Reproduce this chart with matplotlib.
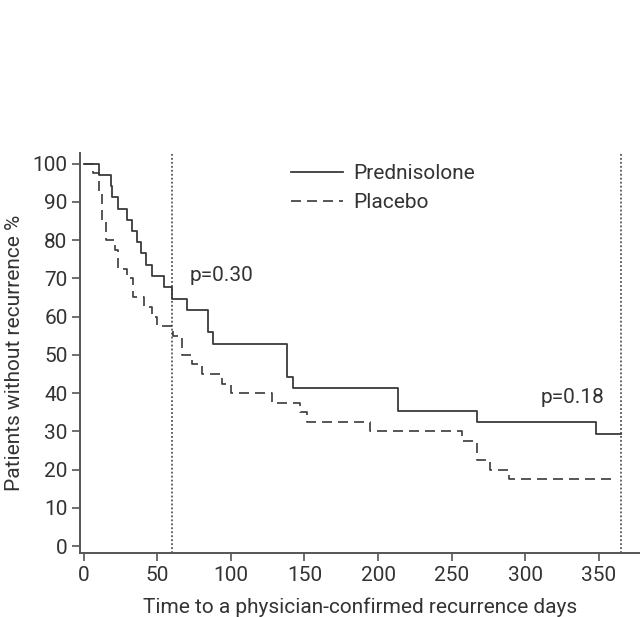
import matplotlib
matplotlib.use("Agg")
import matplotlib.pyplot as plt

plt.rcParams['font.family'] = ['Roboto', 'DejaVu Sans']

# Prednisolone (solid)
pred_days = [0, 10.2, 18.1, 19.3, 23.3, 29, 32.9, 35.8, 38.5, 42, 46, 54.6, 59.6,
             69.8, 84.1, 87.5, 138.2, 141.9, 213.3, 267.2, 348.2, 365]
pred_pct = [100, 97.1, 94.1, 91.2, 88.2, 85.3, 82.4, 79.4, 76.5, 73.5, 70.6, 67.6, 64.7,
            61.8, 55.9, 52.9, 44.1, 41.2, 35.3, 32.4, 29.4, 29.4]

# Placebo (dashed)
plac_days = [0, 6.3, 10.2, 12.3, 15.2, 21, 23.3, 29, 33.5, 41, 46, 50, 60.3, 66.8,
             73.2, 80, 93.6, 100, 127.6, 146.9, 151.4, 194.5, 256.8, 267, 276, 289.2, 360]
plac_pct = [100, 97.5, 92.5, 85, 80, 77.5, 72.5, 70, 65, 62.5, 60, 57.5, 55, 50,
            47.5, 45, 42.5, 40, 37.5, 35, 32.5, 30, 27.5, 22.5, 20, 17.5, 17.5]

cutoffs = [60, 365]
x_ticks = [0, 50, 100, 150, 200, 250, 300, 350]
y_ticks = [0, 10, 20, 30, 40, 50, 60, 70, 80, 90, 100]

col = '#3a3a3a'
txt = '#333333'
fs = 15
fig = plt.figure(figsize=(6.4, 6.17), dpi=100)
ax = fig.add_axes([0.125, 0.1037, 0.875, 0.648])

ax.step(pred_days, pred_pct, where='post', color=col, lw=1.3, label='Prednisolone')
ax.step(plac_days, plac_pct, where='post', color=col, lw=1.2, dashes=(6, 3.6), label='Placebo')
for c in cutoffs:
    ax.axvline(c, color=col, lw=1.1, ls=(0, (1.2, 1.4)))

ax.set_xlim(-2.7, 378.2)
ax.set_ylim(-1.8, 102.7)
ax.set_xticks(x_ticks)
ax.set_yticks(y_ticks)
for s in ['top', 'right']:
    ax.spines[s].set_visible(False)
for s in ['left', 'bottom']:
    ax.spines[s].set_color('#555555')
    ax.spines[s].set_linewidth(1.4)
ax.tick_params(direction='out', length=6, width=1.2, color='#555555',
               labelsize=fs, labelcolor=txt, pad=3)

ax.set_xlabel('Time to a physician-confirmed recurrence days', fontsize=fs, color=txt, labelpad=9)
ax.set_ylabel('Patients without recurrence %', fontsize=fs, color=txt, labelpad=6)

fig.text(0.297, 0.553, 'p=0.30', fontsize=fs, color=txt, va='center', ha='left')
fig.text(0.844, 0.355, 'p=0.18', fontsize=fs, color=txt, va='center', ha='left')

ax.legend(loc='upper left', bbox_to_anchor=(0.343, 1.02), frameon=False,
          fontsize=fs, handlelength=2.5, handletextpad=0.5, labelspacing=0.5,
          labelcolor=txt)

fig.savefig('out.png', dpi=100)
